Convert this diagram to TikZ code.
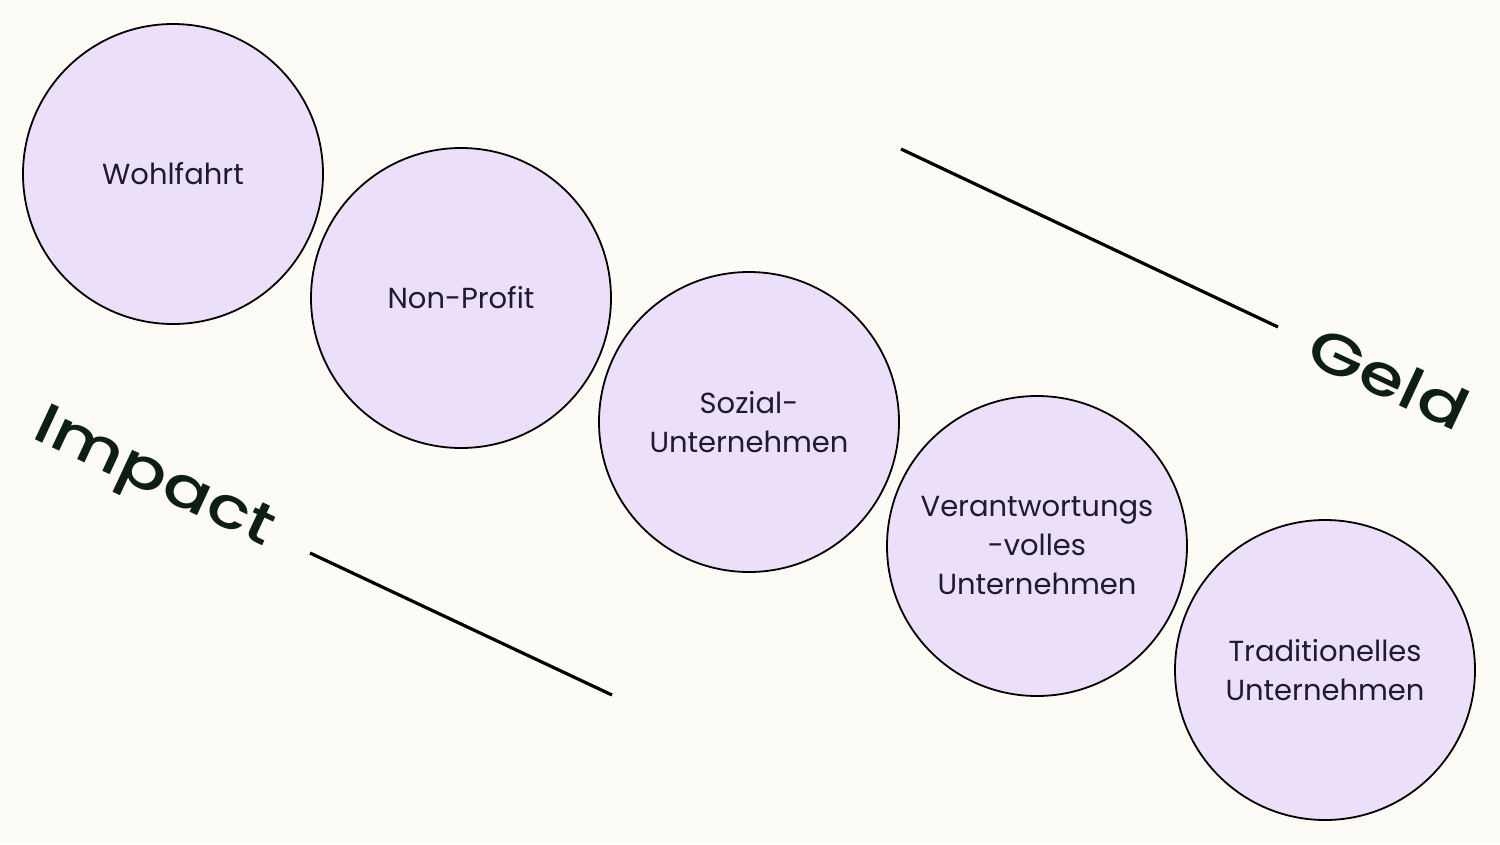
\documentclass[tikz,border=0pt]{standalone}
\usepackage{fontspec}
\setmainfont{Poppins}
\newfontfamily\headfont{Poppins Medium}
\definecolor{bg}{HTML}{FDFBF5}
\definecolor{circfill}{HTML}{ECDFF9}
\definecolor{txt}{HTML}{1F1B2E}
\definecolor{head}{HTML}{0D1F14}
\begin{document}
\begin{tikzpicture}[x=1pt,y=-1pt,
  blob/.style={circle,draw=black,line width=1.8pt,fill=circfill,minimum size=300pt,inner sep=0pt,
    text=txt,font=\fontsize{29}{39}\selectfont,align=center},
  headtxt/.style={text=head,font=\headfont\fontsize{57}{57}\selectfont,inner sep=0pt},
  bar/.style={line width=3.2pt,black}]
\fill[bg] (0,0) rectangle (1500,844);
\useasboundingbox (0,0) rectangle (1500,844);
\node[blob] (c1) at (173,174) {Wohlfahrt};
\node[blob] (c2) at (461,298) {Non-Profit};
\node[blob] (c3) at (749,422) {Sozial-\\Unternehmen};
\node[blob] (c4) at (1037,546) {Verantwortungs\\-volles\\Unternehmen};
\node[blob] (c5) at (1325,670) {Traditionelles\\Unternehmen};
\coordinate (g1) at (901,149);
\coordinate (g2) at (1278,327);
\coordinate (i1) at (310,553);
\coordinate (i2) at (612,695);
\draw[bar] (g1) -- (g2);
\draw[bar] (i1) -- (i2);
\node[headtxt,rotate=-25] (geld) at (1389,378) {\scalebox{1.27}[1]{Geld}};
\node[headtxt,rotate=-25] (impact) at (153,481) {\scalebox{1.25}[1]{Impact}};
\end{tikzpicture}
\end{document}
